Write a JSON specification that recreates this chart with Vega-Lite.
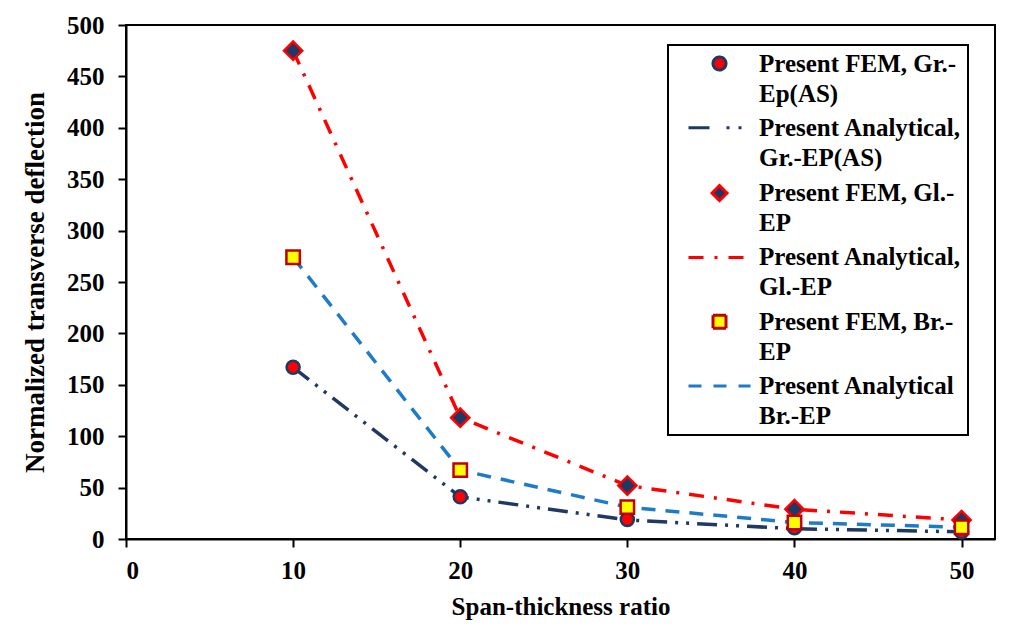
{
  "$schema": "https://vega.github.io/schema/vega-lite/v6.json",
  "width": 869,
  "height": 514,
  "autosize": "none",
  "padding": {"left": 126, "top": 25, "right": 19, "bottom": 89},
  "background": "white",
  "datasets": {
    "analytical": [
      {"ratio": 10, "value": 167, "series": "Present Analytical,|Gr.-EP(AS)"},
      {"ratio": 20, "value": 41, "series": "Present Analytical,|Gr.-EP(AS)"},
      {"ratio": 30, "value": 18.5, "series": "Present Analytical,|Gr.-EP(AS)"},
      {"ratio": 40, "value": 10, "series": "Present Analytical,|Gr.-EP(AS)"},
      {"ratio": 50, "value": 7, "series": "Present Analytical,|Gr.-EP(AS)"},
      {"ratio": 10, "value": 475, "series": "Present Analytical,|Gl.-EP"},
      {"ratio": 20, "value": 118, "series": "Present Analytical,|Gl.-EP"},
      {"ratio": 30, "value": 52, "series": "Present Analytical,|Gl.-EP"},
      {"ratio": 40, "value": 29, "series": "Present Analytical,|Gl.-EP"},
      {"ratio": 50, "value": 18.5, "series": "Present Analytical,|Gl.-EP"},
      {"ratio": 10, "value": 274, "series": "Present Analytical|Br.-EP"},
      {"ratio": 20, "value": 67, "series": "Present Analytical|Br.-EP"},
      {"ratio": 30, "value": 31, "series": "Present Analytical|Br.-EP"},
      {"ratio": 40, "value": 16, "series": "Present Analytical|Br.-EP"},
      {"ratio": 50, "value": 11.5, "series": "Present Analytical|Br.-EP"}
    ],
    "fem": [
      {"ratio": 10, "value": 167, "series": "Present FEM, Gr.-|Ep(AS)"},
      {"ratio": 20, "value": 41, "series": "Present FEM, Gr.-|Ep(AS)"},
      {"ratio": 30, "value": 19, "series": "Present FEM, Gr.-|Ep(AS)"},
      {"ratio": 40, "value": 11, "series": "Present FEM, Gr.-|Ep(AS)"},
      {"ratio": 50, "value": 7, "series": "Present FEM, Gr.-|Ep(AS)"},
      {"ratio": 10, "value": 475, "series": "Present FEM, Gl.-|EP"},
      {"ratio": 20, "value": 118, "series": "Present FEM, Gl.-|EP"},
      {"ratio": 30, "value": 52, "series": "Present FEM, Gl.-|EP"},
      {"ratio": 40, "value": 29, "series": "Present FEM, Gl.-|EP"},
      {"ratio": 50, "value": 18.5, "series": "Present FEM, Gl.-|EP"},
      {"ratio": 10, "value": 274, "series": "Present FEM, Br.-|EP"},
      {"ratio": 20, "value": 67, "series": "Present FEM, Br.-|EP"},
      {"ratio": 30, "value": 31, "series": "Present FEM, Br.-|EP"},
      {"ratio": 40, "value": 16, "series": "Present FEM, Br.-|EP"},
      {"ratio": 50, "value": 11.5, "series": "Present FEM, Br.-|EP"}
    ]
  },
  "layer": [
    {
      "data": {"name": "analytical"},
      "transform": [{"filter": "datum.series == 'Present Analytical,|Gr.-EP(AS)'"}],
      "mark": {"type": "line", "interpolate": "linear", "strokeWidth": 3.5, "strokeDash": [20, 8, 3, 8, 3, 8]},
      "encoding": {
        "x": {
          "field": "ratio", "type": "quantitative",
          "scale": {"domain": [0, 52], "nice": false, "zero": false},
          "axis": {"values": [0, 10, 20, 30, 40, 50], "title": "Span-thickness ratio", "labelPadding": 11, "titlePadding": 11}
        },
        "y": {
          "field": "value", "type": "quantitative",
          "scale": {"domain": [0, 500], "nice": false},
          "axis": {"values": [0, 50, 100, 150, 200, 250, 300, 350, 400, 450, 500], "title": "Normalized transverse deflection", "titleFontSize": 27, "labelPadding": 14, "titlePadding": 17}
        },
        "stroke": {
          "field": "series", "type": "nominal",
          "scale": {
            "domain": ["Present FEM, Gr.-|Ep(AS)", "Present Analytical,|Gr.-EP(AS)", "Present FEM, Gl.-|EP", "Present Analytical,|Gl.-EP", "Present FEM, Br.-|EP", "Present Analytical|Br.-EP"],
            "range": ["#1F3864", "#1F3864", "#FF0000", "#FF0000", "#C00000", "#1E7BC8"]
          },
          "legend": {
            "title": null,
            "orient": "none",
            "legendX": 542,
            "legendY": 20,
            "padding": 6,
            "strokeColor": "black",
            "fillColor": "white",
            "symbolSize": 100,
            "symbolStrokeWidth": 3,
            "symbolOffset": 33,
            "labelOffset": 27,
            "rowPadding": 8.3,
            "labelLimit": 400,
            "labelFont": "Liberation Serif",
            "labelFontWeight": "bold",
            "labelFontSize": 25,
            "labelColor": "black",
            "labelExpr": "split(datum.label, '|')",
            "encode": {
              "legend": {"update": {"strokeWidth": {"value": 2}}},
              "labels": {"update": {"lineHeight": {"value": 30}}},
              "symbols": {
                "update": {
                  "shape": {"signal": "indexof(''+datum.value, 'FEM, Gr') >= 0 ? 'M-1.3,0A1.3,1.3,0,1,0,1.3,0A1.3,1.3,0,1,0,-1.3,0Z' : indexof(''+datum.value, 'FEM, Gl') >= 0 ? 'M0,-1.5L1.5,0L0,1.5L-1.5,0Z' : indexof(''+datum.value, 'FEM, Br') >= 0 ? 'M-1.3,-1.3H1.3V1.3H-1.3Z' : 'M-6.2,0H6.2'"},
                  "fill": {"signal": "indexof(''+datum.value, 'FEM, Gr') >= 0 ? '#FF0000' : indexof(''+datum.value, 'FEM, Gl') >= 0 ? '#1F3864' : indexof(''+datum.value, 'FEM, Br') >= 0 ? '#FFFF00' : 'transparent'"},
                  "stroke": {"signal": "indexof(''+datum.value, 'FEM, Gr') >= 0 ? '#1F3864' : indexof(''+datum.value, 'FEM, Gl') >= 0 ? '#FF0000' : indexof(''+datum.value, 'FEM, Br') >= 0 ? '#C00000' : indexof(''+datum.value, 'Gr.-EP') >= 0 ? '#1F3864' : indexof(''+datum.value, 'Gl.-EP') >= 0 ? '#FF0000' : '#1E7BC8'"},
                  "strokeDash": {"signal": "indexof(''+datum.value, 'Analytical,|Gr') >= 0 ? [21, 17, 3, 9, 3, 9] : indexof(''+datum.value, 'Analytical,|Gl') >= 0 ? [15, 11, 3, 11] : indexof(''+datum.value, 'Analytical|Br') >= 0 ? [13, 12] : [1, 0]"},
                  "opacity": {"value": 1}
                }
              }
            }
          }
        }
      }
    },
    {
      "data": {"name": "analytical"},
      "transform": [{"filter": "datum.series == 'Present Analytical,|Gl.-EP'"}],
      "mark": {"type": "line", "interpolate": "linear", "strokeWidth": 3.5, "stroke": "#FF0000", "strokeDash": [15, 10, 3, 10]},
      "encoding": {
        "x": {"field": "ratio", "type": "quantitative"},
        "y": {"field": "value", "type": "quantitative"}
      }
    },
    {
      "data": {"name": "analytical"},
      "transform": [{"filter": "datum.series == 'Present Analytical|Br.-EP'"}],
      "mark": {"type": "line", "interpolate": "linear", "strokeWidth": 3.5, "stroke": "#1E7BC8", "strokeDash": [14, 10]},
      "encoding": {
        "x": {"field": "ratio", "type": "quantitative"},
        "y": {"field": "value", "type": "quantitative"}
      }
    },
    {
      "data": {"name": "fem"},
      "transform": [{"filter": "datum.series == 'Present FEM, Gr.-|Ep(AS)'"}],
      "mark": {"type": "point", "shape": "circle", "filled": true, "fill": "#FF0000", "stroke": "#1F3864", "strokeWidth": 2.5, "size": 170, "opacity": 1},
      "encoding": {
        "x": {"field": "ratio", "type": "quantitative"},
        "y": {"field": "value", "type": "quantitative"}
      }
    },
    {
      "data": {"name": "fem"},
      "transform": [{"filter": "datum.series == 'Present FEM, Gl.-|EP'"}],
      "mark": {"type": "point", "shape": "diamond", "filled": true, "fill": "#1F3864", "stroke": "#FF0000", "strokeWidth": 2.5, "size": 330, "opacity": 1},
      "encoding": {
        "x": {"field": "ratio", "type": "quantitative"},
        "y": {"field": "value", "type": "quantitative"}
      }
    },
    {
      "data": {"name": "fem"},
      "transform": [{"filter": "datum.series == 'Present FEM, Br.-|EP'"}],
      "mark": {"type": "point", "shape": "square", "filled": true, "fill": "#FFFF00", "stroke": "#C00000", "strokeWidth": 2.5, "size": 180, "opacity": 1},
      "encoding": {
        "x": {"field": "ratio", "type": "quantitative"},
        "y": {"field": "value", "type": "quantitative"}
      }
    }
  ],
  "config": {
    "font": "Liberation Serif",
    "view": {"stroke": "black", "strokeWidth": 2},
    "axis": {
      "labelFont": "Liberation Serif", "labelFontWeight": "bold", "labelFontSize": 25, "labelColor": "black",
      "titleFont": "Liberation Serif", "titleFontWeight": "bold", "titleFontSize": 25, "titleColor": "black",
      "domainColor": "black", "domainWidth": 2, "tickColor": "black", "tickWidth": 2, "tickSize": 8, "grid": false
    }
  }
}
